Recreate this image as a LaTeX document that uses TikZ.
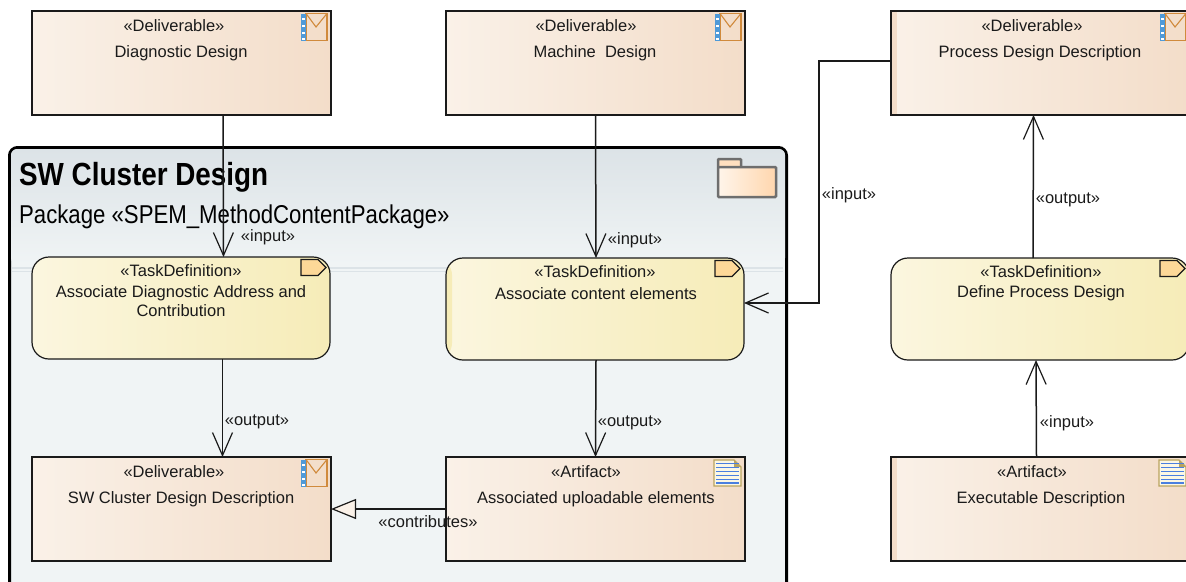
\documentclass[tikz,border=0pt]{standalone}
\usepackage{fontspec}
\setmainfont{Liberation Sans}
\usetikzlibrary{arrows.meta}

\definecolor{boxleft}{HTML}{FAF1E8}
\definecolor{boxright}{HTML}{F3DDC9}
\definecolor{taskleft}{HTML}{FBF6DF}
\definecolor{taskright}{HTML}{F6ECB8}
\definecolor{pkgtop}{HTML}{DCE3E7}
\definecolor{pkgbottom}{HTML}{F0F4F5}
\definecolor{inktext}{HTML}{1A1A1A}
\definecolor{envelope}{HTML}{D08A3C}
\definecolor{spiral}{HTML}{4F9AD8}
\definecolor{taskflag}{HTML}{FDD898}
\definecolor{docedge}{HTML}{B9A45F}
\definecolor{docline}{HTML}{4A7FE0}
\definecolor{docfill}{HTML}{FBF7E4}
\definecolor{folderedge}{HTML}{6E6E6E}

\tikzset{
    deliverable/.style={draw=inktext, line width=1.2pt, left color=boxleft, right color=boxright, anchor=north west, minimum width=299pt, minimum height=104pt, inner sep=0pt, outer sep=0pt},
    taskdef/.style={draw=inktext, line width=1.2pt, left color=taskleft, right color=taskright, rounded corners=17pt, anchor=north west, minimum width=298pt, minimum height=102pt, inner sep=0pt, outer sep=0pt},
    boxtext/.style={font=\fontsize{16.5}{19}\selectfont, text=inktext, align=center, inner sep=0pt, yshift=-1.5pt},
    edgelabel/.style={font=\fontsize{16.5}{20}\selectfont, text=inktext, inner sep=0pt, yshift=-1pt},
    barb/.style={draw=inktext, line width=1.5pt, -{Straight Barb[length=23pt,width=20pt,line width=1.2pt]}},
    stripe/.style={path picture={\fill[#1] (path picture bounding box.south west) rectangle ([xshift=6pt]path picture bounding box.north west);}},
    pics/delivicon/.style={code={
        \draw[draw=envelope, line width=1.4pt] (-25,2.5) rectangle (-4,29.5);
        \draw[draw=envelope, line width=1.1pt] (-25,2.5) -- (-15,16) -- (-4,2.5);
        \fill[spiral] (-30,2.5) rectangle (-25,29.5);
        \foreach \yy in {7,14,21,27} {\fill[white] (-29,\yy) rectangle (-26,\yy+1.8);}
    }},
    pics/taskicon/.style={code={
        \draw[draw=inktext, fill=taskflag, line width=1.2pt] (-29,2.5) -- (-12,2.5) -- (-4,10.5) -- (-12,18.5) -- (-29,18.5) -- cycle;
    }},
    pics/artiicon/.style={code={
        \draw[draw=docedge, fill=docfill, line width=1.4pt] (-31,3) -- (-11,3) -- (-4,10) -- (-4,29) -- (-31,29) -- cycle;
        \fill[docedge] (-11,3) -- (-11,10) -- (-4,10) -- cycle;
        \foreach \yy in {6.5,10.5,14.5,18.5,22.5,26} {\draw[docline, line width=1.2pt] (-29,\yy) -- (-6,\yy);}
    }},
}

\begin{document}
\begin{tikzpicture}[x=1pt,y=-1pt]
    \useasboundingbox (0,0) rectangle (1186,581);
    \clip (0,0) rectangle (1186,581);

    % package
    \node[draw=black, line width=3pt, fill=pkgbottom, rounded corners=8pt, anchor=north west, minimum width=777pt, minimum height=450pt, inner sep=0pt] (pkg) at (8,146) {};
    \shade[top color=pkgtop, bottom color=pkgbottom, rounded corners=6pt] ([xshift=3pt,yshift=-3pt]pkg.north west) rectangle ([xshift=-3pt,yshift=-118pt]pkg.north east);
    \draw[pkgtop, line width=1.8pt] (12,268) -- (783,268);
    \draw[pkgtop, line width=1.8pt] (12,271.5) -- (783,271.5);
    \node[anchor=west, inner sep=0pt, xscale=0.87, font=\fontsize{32}{36}\bfseries\selectfont, text=black] (pkgtitle) at (19,177) {SW Cluster Design};
    \node[anchor=west, inner sep=0pt, xscale=0.86, font=\fontsize{25.8}{30}\selectfont, text=black] (pkgsub) at (19,217) {Package «SPEM\_MethodContentPackage»};

    % folder
    \draw[draw=folderedge, fill=orange!25!white, line width=2.5pt, rounded corners=1pt] (718,167) -- (718,159) -- (741,159) -- (741,167);
    \draw[draw=folderedge, left color=orange!8!white, right color=orange!32!white, line width=2.5pt, rounded corners=1pt] (718,167) rectangle (776,197);

    % boxes
    \node[deliverable] (dgn) at (32,11) {};
    \node[deliverable] (mach) at (446,11) {};
    \node[deliverable, stripe=boxright] (proc) at (891,11) {};
    \node[taskdef] (tda) at (32,257) {};
    \node[taskdef, stripe=taskright] (tdb) at (446,258) {};
    \node[taskdef] (tdc) at (891,258) {};
    \node[deliverable] (swd) at (32,457) {};
    \node[deliverable] (assoc) at (446,457) {};
    \node[deliverable, stripe=boxright] (exec) at (891,457) {};
    \coordinate (bend) at (819,180);

    % connectors
    \draw[barb] ([xshift=41.5pt]dgn.south) -- ([xshift=42.5pt]tda.north);
    \draw[barb] ([xshift=0pt]mach.south) -- ([xshift=1pt]tdb.north);
    \draw[barb] ([xshift=41.5pt]tda.south) -- ([xshift=41pt]swd.north);
    \draw[barb] ([xshift=1pt]tdb.south) -- ([xshift=0pt]assoc.north);
    \draw[barb] ([yshift=2pt]proc.west) -| (bend) |- ([yshift=6pt]tdb.east);
    \draw[barb] ([xshift=-7pt]tdc.north) -- ([xshift=-7pt]proc.south);
    \draw[barb] ([xshift=-4pt]exec.north) -- ([xshift=-4pt]tdc.south);
    \draw[draw=inktext, line width=1.5pt, -{Triangle[open, length=25pt, width=20pt, fill=boxleft, line width=1.2pt]}] (assoc.west) -- (swd.east);

    % box texts
    \node[boxtext] (dgnst) at (174,24) {«Deliverable»};
    \node[boxtext] (dgntx) at (181,52) {Diagnostic Design};
    \node[boxtext] (machst) at (586,24) {«Deliverable»};
    \node[boxtext] (machtx) at (595,52) {Machine~ Design};
    \node[boxtext] (procst) at (1032,24) {«Deliverable»};
    \node[boxtext] (proctx) at (1040,52) {Process Design Description};
    \node[boxtext] (tdast) at (181,269.5) {«TaskDefinition»};
    \node[boxtext, anchor=north] (tdatx) at (181,284) {Associate Diagnostic Address and\\Contribution};
    \node[boxtext] (tdbst) at (595,270) {«TaskDefinition»};
    \node[boxtext] (tdbtx) at (596,292) {Associate content elements};
    \node[boxtext] (tdcst) at (1041,270) {«TaskDefinition»};
    \node[boxtext] (tdctx) at (1041,292) {Define Process Design};
    \node[boxtext] (swdst) at (174,470) {«Deliverable»};
    \node[boxtext] (swdtx) at (181,498) {SW Cluster Design Description};
    \node[boxtext] (assocst) at (586,470) {«Artifact»};
    \node[boxtext] (assoctx) at (596,498) {Associated uploadable elements};
    \node[boxtext] (execst) at (1032,470) {«Artifact»};
    \node[boxtext] (exectx) at (1041,498) {Executable Description};

    % icons
    \pic at (dgn.north east) {delivicon};
    \pic at (mach.north east) {delivicon};
    \pic at (proc.north east) {delivicon};
    \pic at (swd.north east) {delivicon};
    \pic at (tda.north east) {taskicon};
    \pic at (tdb.north east) {taskicon};
    \pic at (tdc.north east) {taskicon};
    \pic at (assoc.north east) {artiicon};
    \pic at (exec.north east) {artiicon};

    % edge labels
    \node[edgelabel] (lbla) at (268,236) {«input»};
    \node[edgelabel] (lblb) at (635,239) {«input»};
    \node[edgelabel] (lblc) at (849,194) {«input»};
    \node[edgelabel] (lbld) at (1068,199) {«output»};
    \node[edgelabel] (lble) at (1067,422) {«input»};
    \node[edgelabel] (lblf) at (257,421) {«output»};
    \node[edgelabel] (lblg) at (630,422) {«output»};
    \node[edgelabel] (lblh) at (428,521) {«contributes»};
\end{tikzpicture}
\end{document}
